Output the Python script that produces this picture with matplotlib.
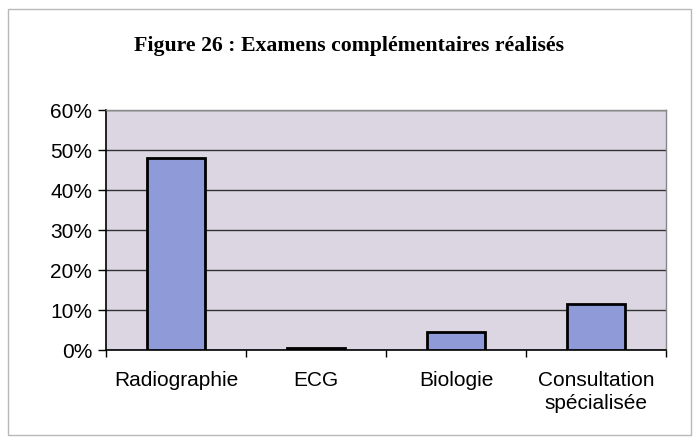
import matplotlib.pyplot as plt
import numpy as np
from matplotlib.patches import Rectangle
from matplotlib.ticker import PercentFormatter

categories = ['Radiographie', 'ECG', 'Biologie', 'Consultation\nspécialisée']
values = [48.0, 0.5, 4.5, 11.5]

fig = plt.figure(figsize=(6.99, 4.42), dpi=100)
fig.patch.set_facecolor('white')

# outer frame of the chart (behind the axes)
fig.patches.append(Rectangle((0.012, 0.015), 0.976, 0.965, transform=fig.transFigure,
                             facecolor='white', edgecolor='#b8b8b8', linewidth=1.0,
                             zorder=-5))

fig.text(0.5, 0.895, 'Figure 26 : Examens complémentaires réalisés',
         ha='center', va='center', fontsize=15.7, fontweight='bold',
         family='Liberation Serif')

ax = fig.add_axes([0.1516, 0.2081, 0.8012, 0.543])
ax.set_zorder(2)
ax.set_facecolor('#dcd6e2')

x = np.arange(len(categories))
ax.bar(x, values, width=0.42, color='#8e9bd8', edgecolor='black', linewidth=2.0, zorder=3)

ax.set_ylim(0, 60)
ax.set_xlim(-0.5, len(categories) - 0.5)
ax.set_yticks(np.arange(0, 61, 10))
ax.yaxis.set_major_formatter(PercentFormatter(decimals=0))
ax.yaxis.grid(True, color='#333333', linewidth=1.0, zorder=1)
ax.set_axisbelow(True)

ax.set_xticks(np.arange(-0.5, len(categories)), minor=False)
ax.set_xticklabels([])
ax.set_xticks(x, minor=True)
ax.set_xticklabels(categories, minor=True, fontsize=15, family='Liberation Sans',
                   linespacing=1.3)
ax.tick_params(axis='x', which='minor', length=0, pad=15)
ax.tick_params(axis='x', which='major', length=5, direction='out', width=1)
ax.tick_params(axis='y', length=6, direction='out', width=1, labelsize=15, pad=4)
for lab in ax.get_yticklabels():
    lab.set_family('Liberation Sans')

for s in ['left', 'bottom']:
    ax.spines[s].set_color('black')
    ax.spines[s].set_linewidth(1.2)
for s in ['top', 'right']:
    ax.spines[s].set_color('#888888')
    ax.spines[s].set_linewidth(1.0)

fig.savefig('out.png', dpi=100)
